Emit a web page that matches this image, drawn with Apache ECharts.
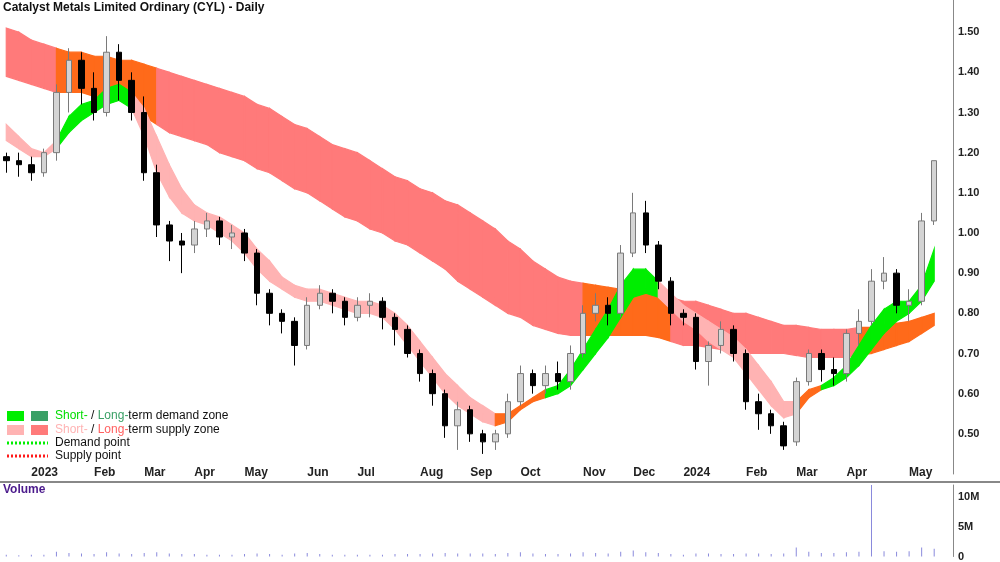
<!DOCTYPE html>
<html><head><meta charset="utf-8">
<script src="https://cdn.jsdelivr.net/npm/echarts@6/dist/echarts.min.js"></script>
<style>html,body{margin:0;padding:0;background:#fff}#c{width:1000px;height:562px}</style>
</head><body><div id="c"></div>
<script>
const dates = ['2022-12-19','2022-12-26','2023-01-02','2023-01-09','2023-01-16','2023-01-23','2023-01-30','2023-02-06','2023-02-13','2023-02-20','2023-02-27','2023-03-06','2023-03-13','2023-03-20','2023-03-27','2023-04-03','2023-04-10','2023-04-17','2023-04-24','2023-05-01','2023-05-08','2023-05-15','2023-05-22','2023-05-29','2023-06-05','2023-06-12','2023-06-19','2023-06-26','2023-07-03','2023-07-10','2023-07-17','2023-07-24','2023-07-31','2023-08-07','2023-08-14','2023-08-21','2023-08-28','2023-09-04','2023-09-11','2023-09-18','2023-09-25','2023-10-02','2023-10-09','2023-10-16','2023-10-23','2023-10-30','2023-11-06','2023-11-13','2023-11-20','2023-11-27','2023-12-04','2023-12-11','2023-12-18','2023-12-25','2024-01-01','2024-01-08','2024-01-15','2024-01-22','2024-01-29','2024-02-05','2024-02-12','2024-02-19','2024-02-26','2024-03-04','2024-03-11','2024-03-18','2024-03-25','2024-04-01','2024-04-08','2024-04-15','2024-04-22','2024-04-29','2024-05-06','2024-05-13','2024-05-20','2024-05-27'];
// [open, close, low, high]
const ohlc = [[1.19,1.18,1.15,1.20],[1.18,1.17,1.14,1.20],[1.17,1.15,1.13,1.19],[1.15,1.20,1.14,1.21],[1.20,1.35,1.18,1.37],[1.35,1.43,1.30,1.46],[1.43,1.36,1.32,1.45],[1.36,1.30,1.28,1.40],[1.30,1.45,1.29,1.49],[1.45,1.38,1.33,1.47],[1.38,1.30,1.28,1.40],[1.30,1.15,1.13,1.34],[1.15,1.02,0.99,1.17],[1.02,0.98,0.93,1.03],[0.98,0.97,0.90,1.00],[0.97,1.01,0.95,1.03],[1.01,1.03,0.99,1.05],[1.03,0.99,0.97,1.04],[0.99,1.00,0.96,1.02],[1.00,0.95,0.93,1.01],[0.95,0.85,0.82,0.96],[0.85,0.80,0.77,0.86],[0.80,0.78,0.75,0.81],[0.78,0.72,0.67,0.79],[0.72,0.82,0.71,0.84],[0.82,0.85,0.81,0.87],[0.85,0.83,0.80,0.86],[0.83,0.79,0.77,0.84],[0.79,0.82,0.78,0.84],[0.82,0.83,0.79,0.85],[0.83,0.79,0.76,0.84],[0.79,0.76,0.72,0.80],[0.76,0.70,0.69,0.77],[0.70,0.65,0.63,0.71],[0.65,0.60,0.57,0.66],[0.60,0.52,0.49,0.61],[0.52,0.56,0.46,0.58],[0.56,0.50,0.48,0.57],[0.50,0.48,0.45,0.51],[0.48,0.50,0.46,0.51],[0.50,0.58,0.49,0.60],[0.58,0.65,0.57,0.67],[0.65,0.62,0.60,0.66],[0.62,0.65,0.60,0.67],[0.65,0.63,0.61,0.68],[0.63,0.70,0.61,0.72],[0.70,0.80,0.69,0.82],[0.80,0.82,0.78,0.85],[0.82,0.80,0.77,0.84],[0.80,0.95,0.79,0.97],[0.95,1.05,0.94,1.10],[1.05,0.97,0.95,1.08],[0.97,0.88,0.86,0.98],[0.88,0.80,0.77,0.89],[0.80,0.79,0.77,0.81],[0.79,0.68,0.66,0.80],[0.68,0.72,0.62,0.73],[0.72,0.76,0.70,0.78],[0.76,0.70,0.68,0.77],[0.70,0.58,0.56,0.71],[0.58,0.55,0.51,0.60],[0.55,0.52,0.50,0.56],[0.52,0.47,0.46,0.53],[0.48,0.63,0.47,0.64],[0.63,0.70,0.62,0.71],[0.70,0.66,0.63,0.71],[0.66,0.65,0.62,0.69],[0.65,0.75,0.63,0.76],[0.75,0.78,0.72,0.81],[0.78,0.88,0.77,0.91],[0.88,0.90,0.86,0.94],[0.90,0.82,0.80,0.91],[0.82,0.83,0.78,0.86],[0.83,1.03,0.82,1.05],[1.03,1.18,1.02,1.18]];
const volume = [0.3,0.2,0.3,0.3,0.8,0.6,0.5,0.4,0.7,0.5,0.4,0.6,0.7,0.5,0.4,0.4,0.3,0.3,0.3,0.4,0.5,0.4,0.3,0.5,0.6,0.4,0.3,0.3,0.3,0.3,0.3,0.4,0.4,0.4,0.5,0.6,0.5,0.5,0.5,0.4,0.6,0.7,0.5,0.4,0.4,0.5,0.7,0.6,0.5,0.8,1.0,0.7,0.6,0.4,0.3,0.5,0.5,0.4,0.4,0.5,0.5,0.4,0.5,1.5,0.8,0.6,0.6,0.7,0.8,12.8,0.9,0.8,0.9,1.5,1.3];
const shortLo = [1.23,1.21,1.19,1.19,1.21,1.25,1.28,1.30,1.32,1.33,1.31,1.24,1.15,1.09,1.05,1.03,1.02,1.00,0.98,0.95,0.91,0.88,0.86,0.84,0.83,0.83,0.82,0.81,0.80,0.80,0.79,0.76,0.72,0.68,0.64,0.60,0.57,0.55,0.53,0.52,0.53,0.56,0.58,0.59,0.60,0.62,0.66,0.70,0.74,0.79,0.84,0.85,0.84,0.81,0.78,0.76,0.73,0.71,0.69,0.65,0.61,0.57,0.54,0.55,0.59,0.61,0.62,0.64,0.67,0.71,0.75,0.78,0.80,0.83,0.88];
const shortHi = [1.27,1.24,1.21,1.20,1.23,1.29,1.32,1.33,1.36,1.37,1.35,1.31,1.24,1.17,1.11,1.07,1.05,1.04,1.02,1.00,0.96,0.93,0.89,0.87,0.86,0.86,0.85,0.84,0.83,0.83,0.82,0.80,0.77,0.73,0.69,0.65,0.62,0.59,0.57,0.55,0.55,0.57,0.59,0.61,0.62,0.66,0.71,0.76,0.81,0.87,0.91,0.91,0.88,0.85,0.82,0.80,0.78,0.76,0.74,0.71,0.67,0.63,0.58,0.58,0.61,0.62,0.64,0.67,0.72,0.77,0.81,0.83,0.83,0.87,0.96];
const shortZone = 'ppppggggggpppppppppppppppppppppppppppppoooogggggggggpppppppppppooggggggggggg';
const longLo = [1.39,1.38,1.37,1.36,1.35,1.35,1.35,1.34,1.33,1.33,1.32,1.29,1.27,1.25,1.24,1.23,1.22,1.20,1.19,1.18,1.16,1.15,1.13,1.11,1.10,1.08,1.06,1.04,1.03,1.01,1.00,0.98,0.97,0.95,0.93,0.91,0.88,0.86,0.84,0.82,0.80,0.79,0.77,0.76,0.75,0.745,0.745,0.745,0.745,0.745,0.745,0.745,0.74,0.73,0.72,0.72,0.715,0.71,0.705,0.70,0.70,0.70,0.70,0.695,0.69,0.69,0.69,0.69,0.695,0.70,0.71,0.72,0.73,0.75,0.77];
const longHi = [1.51,1.50,1.48,1.47,1.46,1.45,1.45,1.44,1.44,1.43,1.43,1.42,1.41,1.40,1.39,1.38,1.37,1.36,1.35,1.34,1.32,1.31,1.29,1.27,1.26,1.24,1.22,1.21,1.20,1.18,1.16,1.14,1.13,1.11,1.10,1.08,1.07,1.05,1.03,1.01,0.98,0.96,0.93,0.91,0.89,0.88,0.875,0.87,0.865,0.86,0.86,0.86,0.85,0.84,0.83,0.83,0.82,0.81,0.80,0.80,0.79,0.78,0.77,0.77,0.765,0.76,0.76,0.76,0.765,0.765,0.77,0.775,0.78,0.79,0.80];
const longZone = 'rrrroooooooorrrrrrrrrrrrrrrrrrrrrrrrrrrrrrrrrrooooooorrrrrrrrrrrrrrroooooooo';
const months = ['Jan','Feb','Mar','Apr','May','Jun','Jul','Aug','Sep','Oct','Nov','Dec'];
const priceTicks = [0.5,0.6,0.7,0.8,0.9,1.0,1.1,1.2,1.3,1.4,1.5];
const volumeTicks = [0,5,10];

const zoneColors = {p:'#ffb3b3', g:'#00ee00', o:'#ff6a1a', r:'#ff7a7a'};
function isMonthStart(i){ if(i===0) return false; return dates[i].slice(0,7)!==dates[i-1].slice(0,7); }
function monthLabel(v){ const m=+v.slice(5,7); return m===1? v.slice(0,4) : months[m-1]; }
function bandSeries(lo, hi, zone, z){
  return {type:'custom', xAxisIndex:0, yAxisIndex:0, z:z, silent:true,
    data: lo.map((v,i)=>[i, v, hi[i]]),
    renderItem:function(params, api){
      const i = api.value(0);
      if(i >= lo.length-1) return null;
      const a = api.coord([i, lo[i]]), b = api.coord([i+1, lo[i+1]]),
            c = api.coord([i+1, hi[i+1]]), d = api.coord([i, hi[i]]);
      const col = zoneColors[zone[i]];
      return {type:'polygon', shape:{points:[a,b,c,d]}, style:{fill:col, stroke:col, lineWidth:1.2}};
    }};
}
const chart = echarts.init(document.getElementById('c'));
const F = 'Liberation Sans, Arial, sans-serif';
chart.setOption({
  animation:false,
  textStyle:{fontFamily:F},
  grid:[{left:0, right:47, top:0, height:474},
        {left:0, right:47, top:463, height:19},
        {left:0, right:47, top:485, height:72}],
  xAxis:[
    {type:'category', data:dates, gridIndex:0, show:false},
    {type:'category', data:dates, gridIndex:1, position:'top',
      axisLine:{lineStyle:{color:'#888', width:1}},
      axisTick:{inside:true, length:4, lineStyle:{color:'#888'}, interval:(i)=>isMonthStart(i)},
      axisLabel:{inside:true, interval:(i)=>isMonthStart(i), formatter:monthLabel, align:'left', margin:4,
        fontWeight:'bold', fontSize:12, color:'#222', fontFamily:F}},
    {type:'category', data:dates, gridIndex:2, show:false}
  ],
  yAxis:[
    {type:'value', gridIndex:0, position:'right', min:0.4, max:1.58, interval:0.1,
      axisLine:{show:true, lineStyle:{color:'#888'}}, axisTick:{show:false}, splitLine:{show:false},
      axisLabel:{margin:5, fontWeight:'bold', fontSize:11, color:'#222', fontFamily:F,
        formatter:(v)=> priceTicks.some(t=>Math.abs(t-v)<1e-6) ? v.toFixed(2) : ''}},
    {type:'value', gridIndex:1, show:false},
    {type:'value', gridIndex:2, position:'right', min:0, max:12, interval:5,
      axisLine:{show:true, lineStyle:{color:'#888'}}, axisTick:{show:false}, splitLine:{show:false},
      axisLabel:{margin:5, fontWeight:'bold', fontSize:11, color:'#222', fontFamily:F,
        formatter:(v)=> volumeTicks.indexOf(v)<0 ? '' : (v===0 ? '0' : v+'M')}}
  ],
  series:[
    bandSeries(longLo, longHi, longZone, 1),
    bandSeries(shortLo, shortHi, shortZone, 2),
    {type:'candlestick', xAxisIndex:0, yAxisIndex:0, z:5, data:ohlc, barWidth:6,
      itemStyle:{color:'#d4d4d4', borderColor:'#7a7a7a', color0:'#000', borderColor0:'#000', borderWidth:1}},
    {type:'bar', xAxisIndex:2, yAxisIndex:2, data:volume, barWidth:1, itemStyle:{color:'#8a8adc'}}
  ],
  graphic:[
    {type:'line', shape:{x1:0,y1:482,x2:1000,y2:482}, style:{stroke:'#888', lineWidth:2}},
    {type:'text', left:3, top:2, style:{text:'Catalyst Metals Limited Ordinary (CYL) - Daily', font:'bold 12px '+F, fill:'#111'}},
    {type:'text', left:3, top:484, style:{text:'Volume', font:'bold 12px '+F, fill:'#4b1a8c'}},
    {type:'rect', shape:{x:7,y:411,width:17,height:10}, style:{fill:'#00ee00'}},
    {type:'rect', shape:{x:31,y:411,width:17,height:10}, style:{fill:'#3aa066'}},
    {type:'rect', shape:{x:7,y:425,width:17,height:10}, style:{fill:'#ffb3b3'}},
    {type:'rect', shape:{x:31,y:425,width:17,height:10}, style:{fill:'#ff7a7a'}},
    {type:'line', shape:{x1:7,y1:443,x2:48,y2:443}, style:{stroke:'#00ee00', lineWidth:3, lineDash:[2,2]}},
    {type:'line', shape:{x1:7,y1:456,x2:48,y2:456}, style:{stroke:'#ff1a1a', lineWidth:3, lineDash:[2,2]}},
    {type:'text', left:55, top:410, style:{text:'{g|Short-} / {d|Long-}term demand zone', font:'12px '+F, fill:'#111',
      rich:{g:{fill:'#00dd00', font:'12px '+F}, d:{fill:'#3aa066', font:'12px '+F}}}},
    {type:'text', left:55, top:424, style:{text:'{p|Short-} / {r|Long-}term supply zone', font:'12px '+F, fill:'#111',
      rich:{p:{fill:'#ffb3b3', font:'12px '+F}, r:{fill:'#ff6060', font:'12px '+F}}}},
    {type:'text', left:55, top:437, style:{text:'Demand point', font:'12px '+F, fill:'#111'}},
    {type:'text', left:55, top:450, style:{text:'Supply point', font:'12px '+F, fill:'#111'}}
  ]
});
</script></body></html>
